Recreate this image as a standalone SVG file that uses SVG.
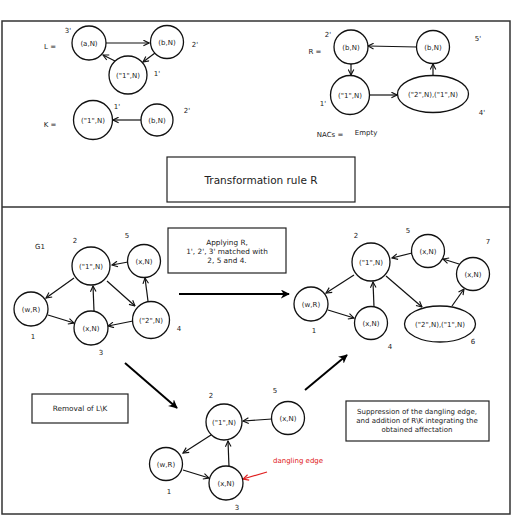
<svg xmlns="http://www.w3.org/2000/svg" width="521" height="519" viewBox="0 0 521 519">
<defs>
<style>
text{font-family:"DejaVu Sans","Liberation Sans",sans-serif;fill:#222;font-size:7px}
.c{text-anchor:middle}
.n{fill:#fff;stroke:#111;stroke-width:1.3}
.e{fill:none;stroke:#111;stroke-width:1.2;marker-end:url(#a)}
.t{fill:none;stroke:#000;stroke-width:2;marker-end:url(#b)}
.box{fill:#fff;stroke:#222;stroke-width:1.2}
</style>
<marker id="a" viewBox="0 0 10 10" refX="9" refY="5" markerWidth="7" markerHeight="7" markerUnits="userSpaceOnUse" orient="auto">
<path d="M1,1 L9,5 L1,9" fill="none" stroke="#111" stroke-width="1.6"/>
</marker>
<marker id="r" viewBox="0 0 10 10" refX="9" refY="5" markerWidth="7" markerHeight="7" markerUnits="userSpaceOnUse" orient="auto">
<path d="M1,1 L9,5 L1,9" fill="none" stroke="#e02020" stroke-width="1.6"/>
</marker>
<marker id="b" viewBox="0 0 10 10" refX="9" refY="5" markerWidth="9" markerHeight="9" markerUnits="userSpaceOnUse" orient="auto">
<path d="M0,0 L10,5 L0,10 L3,5 z" fill="#000"/>
</marker>
</defs>
<rect width="521" height="519" fill="#fff"/>
<g id="frame">
<rect x="2" y="21" width="508" height="493" fill="none" stroke="#333" stroke-width="1.5"/>
<line x1="2" y1="207" x2="510" y2="207" stroke="#333" stroke-width="1.5"/>
</g>
<g id="connectors">
<!-- L -->
<line class="e" x1="106" y1="43" x2="149" y2="43"/>
<line class="e" x1="155" y1="53" x2="143" y2="62"/>
<line class="e" x1="117" y1="62" x2="103" y2="55"/>
<!-- K -->
<line class="e" x1="141" y1="120" x2="113" y2="120"/>
<!-- R -->
<line class="e" x1="417" y1="47" x2="368" y2="46"/>
<line class="e" x1="351" y1="64" x2="351" y2="75"/>
<line class="e" x1="370" y1="95" x2="397" y2="95"/>
<line class="e" x1="433" y1="76" x2="433" y2="64"/>
<!-- G1 -->
<line class="e" x1="74" y1="278" x2="46" y2="298"/>
<line class="e" x1="48" y1="315" x2="74" y2="323"/>
<line class="e" x1="94" y1="311" x2="93" y2="286"/>
<line class="e" x1="107" y1="281" x2="135" y2="306"/>
<line class="e" x1="133" y1="321" x2="108" y2="326"/>
<line class="e" x1="148" y1="301" x2="145" y2="278"/>
<line class="e" x1="128" y1="262" x2="112" y2="265"/>
<!-- G result -->
<line class="e" x1="354" y1="275" x2="326" y2="293"/>
<line class="e" x1="328" y1="310" x2="354" y2="318"/>
<line class="e" x1="374" y1="307" x2="373" y2="282"/>
<line class="e" x1="386" y1="276" x2="422" y2="307"/>
<line class="e" x1="452" y1="306" x2="464" y2="289"/>
<line class="e" x1="459" y1="264" x2="443" y2="259"/>
<line class="e" x1="412" y1="253" x2="392" y2="258"/>
<!-- intermediate -->
<line class="e" x1="272" y1="419" x2="243" y2="421"/>
<line class="e" x1="211" y1="435" x2="183" y2="453"/>
<line class="e" x1="183" y1="470" x2="209" y2="478"/>
<line class="e" x1="229" y1="467" x2="228" y2="441"/>
<line fill="none" stroke="#e02020" stroke-width="1.2" marker-end="url(#r)" x1="267" y1="472" x2="243" y2="479"/>
<!-- thick -->
<line class="t" x1="179" y1="294" x2="289" y2="294"/>
<line class="t" x1="125" y1="363" x2="177" y2="408"/>
<line class="t" x1="305" y1="390" x2="347" y2="355"/>
</g>
<g id="labels">
<text x="50" y="49" class="c">L =</text>
<text x="50" y="127" class="c">K =</text>
<text x="315" y="54" class="c">R =</text>
<text x="330" y="137" class="c">NACs =</text>
<text x="366" y="135" class="c">Empty</text>
<text x="68" y="33" class="c">3'</text>
<text x="195" y="47" class="c">2'</text>
<text x="157" y="76" class="c">1'</text>
<text x="117" y="109" class="c">1'</text>
<text x="187" y="113" class="c">2'</text>
<text x="328" y="37" class="c">2'</text>
<text x="478" y="41" class="c">5'</text>
<text x="323" y="106" class="c">1'</text>
<text x="482" y="115" class="c">4'</text>
<text x="40" y="249" class="c">G1</text>
<text x="75" y="243" class="c">2</text>
<text x="127" y="238" class="c">5</text>
<text x="33" y="339" class="c">1</text>
<text x="101" y="355" class="c">3</text>
<text x="179" y="331" class="c">4</text>
<text x="356" y="238" class="c">2</text>
<text x="408" y="233" class="c">5</text>
<text x="488" y="244" class="c">7</text>
<text x="314" y="333" class="c">1</text>
<text x="390" y="349" class="c">4</text>
<text x="473" y="344" class="c">6</text>
<text x="211" y="398" class="c">2</text>
<text x="275" y="393" class="c">5</text>
<text x="169" y="494" class="c">1</text>
<text x="237" y="510" class="c">3</text>
<text x="273" y="463" style="fill:#e02020">dangling edge</text>
</g>
<g id="rule-box">
<rect class="box" x="167" y="157" width="188" height="45"/>
<text x="261" y="184" class="c" style="font-size:10.5px">Transformation rule R</text>
</g>
<g id="applying-box">
<rect class="box" x="168" y="228" width="118" height="45"/>
<text x="227" y="245" class="c" style="font-size:7.3px">Applying R,</text>
<text x="227" y="254" class="c" style="font-size:7.3px">1', 2', 3' matched with</text>
<text x="227" y="263" class="c" style="font-size:7.3px">2, 5 and 4.</text>
</g>
<g id="removal-box">
<rect class="box" x="32" y="394" width="96" height="29"/>
<text x="80" y="411" class="c" style="font-size:7.3px">Removal of L\K</text>
</g>
<g id="suppression-box">
<rect class="box" x="346" y="401" width="143" height="40"/>
<text x="417" y="414" class="c">Suppression of the dangling edge,</text>
<text x="417" y="423" class="c">and addition of R\K integrating the</text>
<text x="417" y="432" class="c">obtained affectation</text>
</g>
<g id="L-aN"><circle class="n" cx="89" cy="43" r="17"/><text x="89" y="45.5" class="c">(a,N)</text></g>
<g id="L-bN"><circle class="n" cx="167" cy="42" r="16.5"/><text x="167" y="44.5" class="c">(b,N)</text></g>
<g id="L-1N"><circle class="n" cx="128" cy="75" r="19"/><text x="128" y="77.5" class="c">("1",N)</text></g>
<g id="K-1N"><circle class="n" cx="93" cy="120" r="19.5"/><text x="93" y="122.5" class="c">("1",N)</text></g>
<g id="K-bN"><circle class="n" cx="157" cy="120" r="16"/><text x="157" y="122.5" class="c">(b,N)</text></g>
<g id="R-bN2"><circle class="n" cx="351" cy="47" r="17"/><text x="351" y="49.5" class="c">(b,N)</text></g>
<g id="R-bN5"><circle class="n" cx="433" cy="47" r="16.5"/><text x="433" y="49.5" class="c">(b,N)</text></g>
<g id="R-1N"><circle class="n" cx="350" cy="95" r="19.5"/><text x="350" y="97.5" class="c">("1",N)</text></g>
<g id="R-ell"><ellipse class="n" cx="433" cy="94" rx="35.5" ry="18.5"/><text x="433" y="96.5" class="c">("2",N),("1",N)</text></g>
<g id="G1-2"><circle class="n" cx="91" cy="266" r="19"/><text x="91" y="268.5" class="c">("1",N)</text></g>
<g id="G1-5"><circle class="n" cx="144" cy="261" r="16.5"/><text x="144" y="263.5" class="c">(x,N)</text></g>
<g id="G1-1"><circle class="n" cx="31" cy="309" r="17"/><text x="31" y="311.5" class="c">(w,R)</text></g>
<g id="G1-3"><circle class="n" cx="91" cy="328" r="17"/><text x="91" y="330.5" class="c">(x,N)</text></g>
<g id="G1-4"><circle class="n" cx="151" cy="320" r="18.5"/><text x="151" y="322.5" class="c">("2",N)</text></g>
<g id="G2-2"><circle class="n" cx="371" cy="262" r="19"/><text x="371" y="264.5" class="c">("1",N)</text></g>
<g id="G2-5"><circle class="n" cx="428" cy="251" r="16.5"/><text x="428" y="253.5" class="c">(x,N)</text></g>
<g id="G2-7"><circle class="n" cx="473" cy="274" r="16.5"/><text x="473" y="276.5" class="c">(x,N)</text></g>
<g id="G2-1"><circle class="n" cx="311" cy="304" r="17"/><text x="311" y="306.5" class="c">(w,R)</text></g>
<g id="G2-4"><circle class="n" cx="371" cy="323" r="16.5"/><text x="371" y="325.5" class="c">(x,N)</text></g>
<g id="G2-6"><ellipse class="n" cx="440" cy="324" rx="35.5" ry="18"/><text x="440" y="326.5" class="c">("2",N),("1",N)</text></g>
<g id="G3-2"><circle class="n" cx="224" cy="422" r="18"/><text x="224" y="424.5" class="c">("1",N)</text></g>
<g id="G3-5"><circle class="n" cx="288" cy="418" r="16.5"/><text x="288" y="420.5" class="c">(x,N)</text></g>
<g id="G3-1"><circle class="n" cx="166" cy="464" r="16.5"/><text x="166" y="466.5" class="c">(w,R)</text></g>
<g id="G3-3"><circle class="n" cx="226" cy="483" r="17"/><text x="226" y="485.5" class="c">(x,N)</text></g>
</svg>
